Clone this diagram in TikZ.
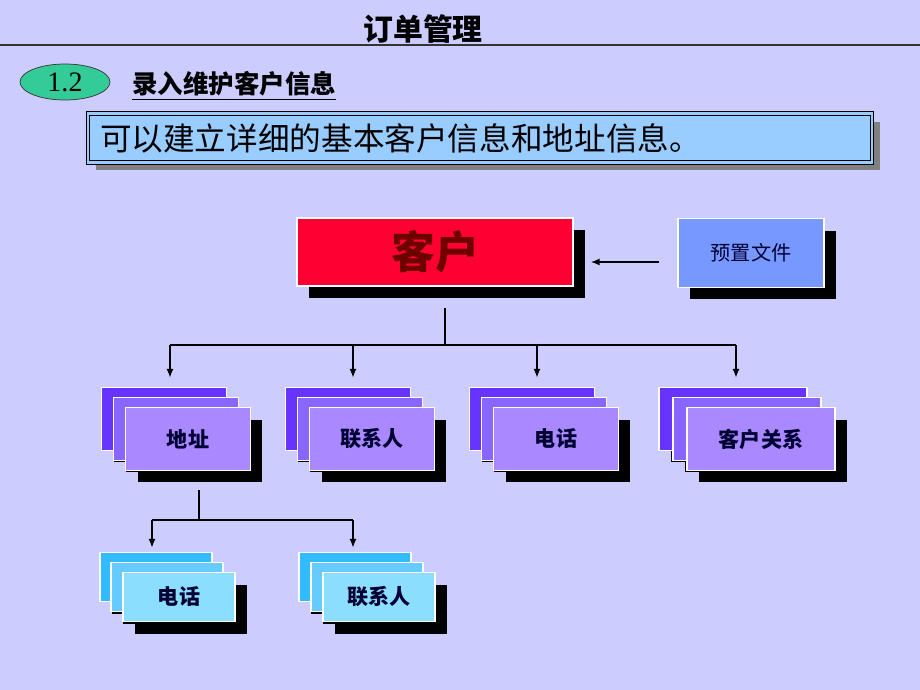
\documentclass[tikz,border=0pt]{standalone}
\usepackage{fontspec}
\setmainfont{Liberation Serif}
\newfontfamily\cjk{Noto Sans CJK SC}
\usepackage{tikz}
\usetikzlibrary{shapes.geometric, arrows.meta, positioning, shadows}
\definecolor{pagebg}{RGB}{204, 204, 255}
\definecolor{ovalgreen}{RGB}{51, 204, 153}
\definecolor{infoblue}{RGB}{153, 204, 255}
\definecolor{custred}{RGB}{255, 0, 51}
\definecolor{custtext}{RGB}{110, 0, 0}
\definecolor{presetblue}{RGB}{119, 153, 255}
\definecolor{violetA}{RGB}{102, 51, 255}
\definecolor{violetB}{RGB}{136, 102, 255}
\definecolor{violetC}{RGB}{170, 136, 255}
\definecolor{cyanA}{RGB}{51, 187, 255}
\definecolor{cyanB}{RGB}{102, 204, 255}
\definecolor{cyanC}{RGB}{140, 222, 255}
\definecolor{labelnavy}{RGB}{0, 0, 51}

\begin{document}
\begin{tikzpicture}[
    x=0.02cm, y=-0.02cm,
    blackshadow/.style={drop shadow={shadow xshift=0.24cm, shadow yshift=-0.24cm, fill=black, opacity=1}},
    vcard/.style={rectangle, draw=white, line width=1pt, inner sep=0pt, minimum width=2.5cm, minimum height=1.26cm, blackshadow, text=labelnavy, font=\cjk\bfseries\fontsize{12}{14}\selectfont},
    ccard/.style={vcard, minimum width=2.24cm, minimum height=0.98cm},
    arrow/.style={-{Latex[length=5pt, width=4pt]}, thick, draw=black},
    link/.style={thick, draw=black}
]
    \useasboundingbox[fill=pagebg] (0,0) rectangle (920,690);

    % Header
    \draw[line width=0.8pt, black!80] (0,45) -- (920,45);
    \node[anchor=base, font=\cjk\bfseries\fontsize{17}{20}\selectfont] (title) at (423,40) {订单管理};
    \node[ellipse, draw=black!80, fill=ovalgreen, minimum width=1.8cm, minimum height=0.72cm, inner sep=0pt, font=\fontsize{16}{18}\selectfont] (secno) at (65,82) {1.2};
    \node[anchor=west, font=\cjk\bfseries\fontsize{14.5}{17}\selectfont] (subtitle) at (126,86) {\underline{录入维护客户信息}};
    \node[rectangle, draw=black, double=infoblue, double distance=1.5pt, fill=infoblue, minimum width=15.68cm, minimum height=0.98cm, text width=15.2cm, align=left, inner xsep=0.24cm, inner ysep=0pt,
          drop shadow={shadow xshift=0.16cm, shadow yshift=-0.16cm, fill=gray, opacity=1},
          font=\cjk\fontsize{18}{20}\selectfont] (info) at (480,138) {可以建立详细的基本客户信息和地址信息。};

    % Top level
    \node[rectangle, draw=white, line width=1pt, fill=custred, minimum width=5.52cm, minimum height=1.36cm, blackshadow, text=custtext, font=\cjk\bfseries\fontsize{25}{28}\selectfont] (kehu) at (435,252) {客户};
    \node[rectangle, draw=white, line width=1pt, fill=presetblue, minimum width=2.92cm, minimum height=1.38cm, blackshadow, text=labelnavy, font=\cjk\fontsize{11.5}{13}\selectfont] (preset) at (751,253) {预置文件};
    \coordinate (feed) at ([shift={(-18,9)}]preset.west);
    \draw[arrow] (feed) -- ([xshift=0.34cm]feed -| kehu.east);

    % Second level
    \node[vcard, fill=violetA] (addr_b) at (164,419) {};
    \node[vcard, fill=violetB] (addr_m) at (176,429) {};
    \node[vcard, fill=violetC] (addr) at (188,439) {地址};
    \node[vcard, fill=violetA] (contact_b) at (348,419) {};
    \node[vcard, fill=violetB] (contact_m) at (360,429) {};
    \node[vcard, fill=violetC] (contact) at (372,439) {联系人};
    \node[vcard, fill=violetA] (phone_b) at (532,419) {};
    \node[vcard, fill=violetB] (phone_m) at (544,429) {};
    \node[vcard, fill=violetC] (phone) at (556,439) {电话};
    \node[vcard, fill=violetA, minimum width=2.96cm] (rel_b) at (733,419) {};
    \node[vcard, fill=violetB, minimum width=2.96cm] (rel_m) at (747,429) {};
    \node[vcard, fill=violetC, minimum width=2.96cm] (rel) at (761,439) {客户关系};

    \coordinate (stem) at (445,308);
    \coordinate (hub) at (445,345);
    \coordinate (t1) at (170,345);
    \coordinate (t2) at (353,345);
    \coordinate (t3) at (537,345);
    \coordinate (t4) at (736,345);
    \draw[link] (stem) -- (hub);
    \draw[link] (t1) -- (t4);
    \foreach \t/\n in {t1/addr_b, t2/contact_b, t3/phone_b, t4/rel_b}
        \draw[arrow, shorten >=0.18cm] (\t) -- (\t |- \n.north);

    % Third level
    \node[ccard, fill=cyanA] (aphone_b) at (156,577) {};
    \node[ccard, fill=cyanB] (aphone_m) at (167,587) {};
    \node[ccard, fill=cyanC] (aphone) at (179,597) {电话};
    \node[ccard, fill=cyanA] (acontact_b) at (355,577) {};
    \node[ccard, fill=cyanB] (acontact_m) at (367,587) {};
    \node[ccard, fill=cyanC] (acontact) at (379,597) {联系人};

    \coordinate (astem) at (199,490);
    \coordinate (ahub) at (199,520);
    \coordinate (s1) at (152,520);
    \coordinate (s2) at (353,520);
    \draw[link] (astem) -- (ahub);
    \draw[link] (s1) -- (s2);
    \draw[arrow, shorten >=0.08cm] (s1) -- (s1 |- aphone_b.north);
    \draw[arrow, shorten >=0.08cm] (s2) -- (s2 |- acontact_b.north);
\end{tikzpicture}
\end{document}
